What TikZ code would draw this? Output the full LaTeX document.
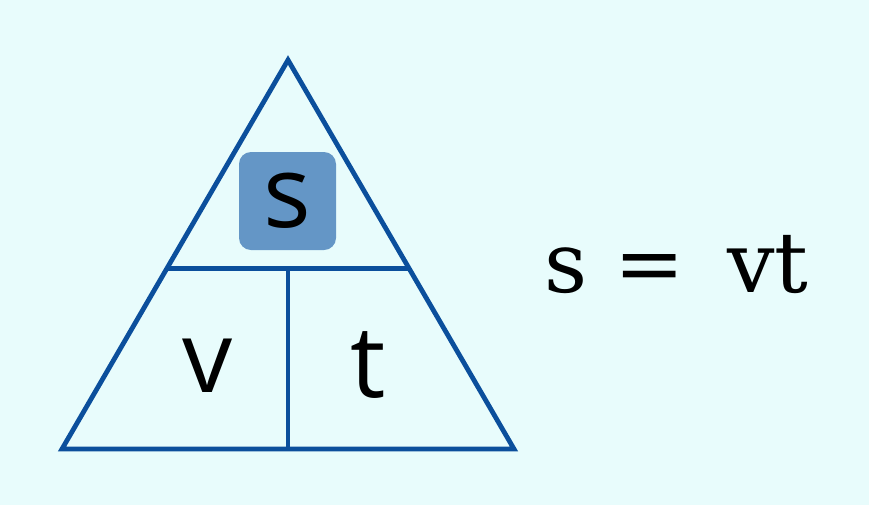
\documentclass[tikz,border=0pt]{standalone}
\usepackage{fontspec}
\setmainfont{DejaVu Serif}
\newfontfamily\lettersf{Open Sans}
\usetikzlibrary{calc}
\definecolor{bg}{HTML}{E8FCFC}
\definecolor{edge}{HTML}{0B4F9C}
\definecolor{boxfill}{HTML}{6496C6}
\tikzset{
  tri/.style={draw=edge, line width=2.4pt, line join=miter},
  topbox/.style={fill=boxfill, rounded corners=6pt},
  letter/.style={font=\lettersf\fontsize{50}{50}\selectfont, text=black, inner sep=0pt},
  formula/.style={font=\fontsize{42}{42}\selectfont, text=black, inner sep=0pt, anchor=base west},
}
\begin{document}
\begin{tikzpicture}[x=0.5pt, y=-0.5pt]
  \fill[bg] (0,0) rectangle (869,505);
  \useasboundingbox (0,0) rectangle (869,505);
  \coordinate (A) at (288,60);
  \coordinate (B) at (62,449);
  \coordinate (C) at (514,449);
  \coordinate (L) at ($(B)!0.465!(A)$);
  \coordinate (R) at ($(C)!0.465!(A)$);
  \coordinate (M) at ($(L)!0.5!(R)$);
  \coordinate (N) at ($(B)!0.5!(C)$);
  \fill[topbox] (239,152) rectangle (336,250);
  \draw[tri] (A)--(B)--(C)--cycle;
  \draw[tri] (L)--(R);
  \draw[tri] (M)--(N);
  \node[letter] (s) at (287.5,201) {s};
  \node[letter] (v) at (208,366) {v};
  \node[letter] (t) at (368,365) {t};
  \node[formula] (eq) at (544,292) {s = \hspace{8pt}vt};
\end{tikzpicture}
\end{document}
